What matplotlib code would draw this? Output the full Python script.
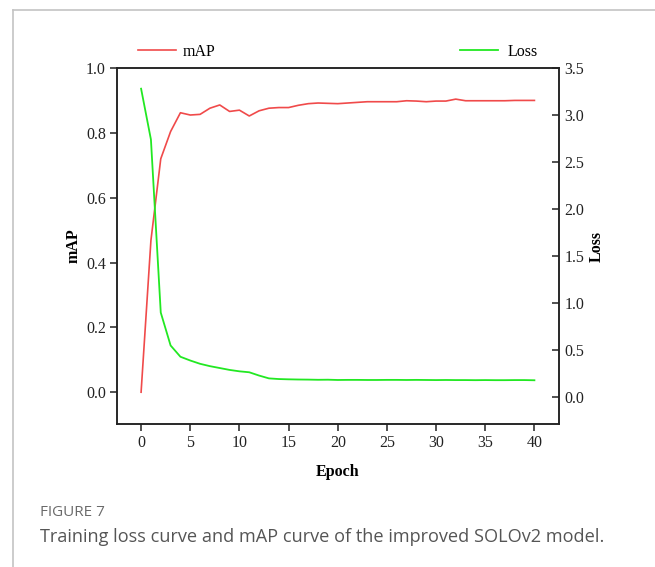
import matplotlib
matplotlib.use('Agg')
import matplotlib.pyplot as plt
from matplotlib.lines import Line2D

# data
epochs = list(range(41))
map_vals = [0.0, 0.468, 0.72, 0.804, 0.862, 0.855, 0.857, 0.876, 0.886, 0.866,
            0.870, 0.852, 0.868, 0.876, 0.878, 0.878, 0.885, 0.890, 0.892, 0.891,
            0.890, 0.892, 0.894, 0.896, 0.896, 0.896, 0.896, 0.899, 0.898, 0.896,
            0.898, 0.898, 0.904, 0.899, 0.899, 0.899, 0.899, 0.899, 0.900, 0.900,
            0.900]
loss_vals = [3.28, 2.74, 0.90, 0.55, 0.43, 0.39, 0.355, 0.33, 0.31, 0.29,
             0.275, 0.265, 0.23, 0.20, 0.193, 0.19, 0.188, 0.187, 0.185, 0.186,
             0.183, 0.184, 0.184, 0.183, 0.183, 0.184, 0.184, 0.183, 0.184, 0.183,
             0.182, 0.183, 0.182, 0.182, 0.181, 0.182, 0.181, 0.181, 0.182, 0.182,
             0.180]
x_ticks = [0, 5, 10, 15, 20, 25, 30, 35, 40]
map_ticks = [0.0, 0.2, 0.4, 0.6, 0.8, 1.0]
loss_ticks = [0.0, 0.5, 1.0, 1.5, 2.0, 2.5, 3.0, 3.5]

red = '#f04a4a'
green = '#22e822'
dark = '#222222'

plt.rcParams['font.family'] = 'Liberation Serif'
plt.rcParams['font.size'] = 11.5

fig = plt.figure(figsize=(6.55, 5.67), dpi=100)
ax = fig.add_axes([117/655, 1-424/567, 442/655, 356/567])
ax2 = ax.twinx()

ax.plot(epochs, map_vals, color=red, lw=1.2, label='mAP')
ax2.plot(epochs, loss_vals, color=green, lw=1.3, label='Loss')

ax.set_xlim(-2.45, 42.5)
ax.set_ylim(-0.098, 1.0)
ax2.set_ylim(-0.285, 3.5)
ax.set_xticks(x_ticks)
ax.set_yticks(map_ticks)
ax.set_yticklabels(['%.1f' % v for v in map_ticks])
ax2.set_yticks(loss_ticks)
ax2.set_yticklabels(['%.1f' % v for v in loss_ticks])

for a in (ax, ax2):
    for s in a.spines.values():
        s.set_color(dark)
        s.set_linewidth(1.1)
ax.tick_params(axis='both', direction='out', length=5, width=1.1, color=dark, labelcolor=dark, pad=3)
ax2.tick_params(axis='y', direction='in', length=5, width=1.1, color=dark, labelcolor=dark, pad=4)

ax.set_xlabel('Epoch', fontweight='bold', fontsize=11.5, labelpad=9)
ax.set_ylabel('mAP', fontweight='bold', fontsize=11.5, labelpad=3)
ax2.set_ylabel('Loss', fontweight='bold', fontsize=11.5, labelpad=3)

# the two legends sit above the plot box
ax.legend(loc='center left', bbox_to_anchor=(0.047, 1.045), frameon=False,
          borderpad=0, borderaxespad=0, handlelength=2.4, handletextpad=0.4)
ax2.legend(loc='center left', bbox_to_anchor=(0.776, 1.045), frameon=False,
           borderpad=0, borderaxespad=0, handlelength=2.4, handletextpad=0.6)

# page frame and caption
fig.add_artist(Line2D([13/655, 1], [1-10/567, 1-10/567], color='#c4c4c4', lw=1.2))
fig.add_artist(Line2D([13/655, 13/655], [0, 1-10/567], color='#c4c4c4', lw=1.2))
fig.text(40/655, 1-513/567, 'FIGURE 7', family='Open Sans', fontsize=11, color='#6a6a6a', va='center')
fig.text(40/655, 1-537/567, 'Training loss curve and mAP curve of the improved SOLOv2 model.',
         family='Open Sans', fontsize=13.1, color='#555555', va='center')

fig.savefig('out.png', dpi=100)
